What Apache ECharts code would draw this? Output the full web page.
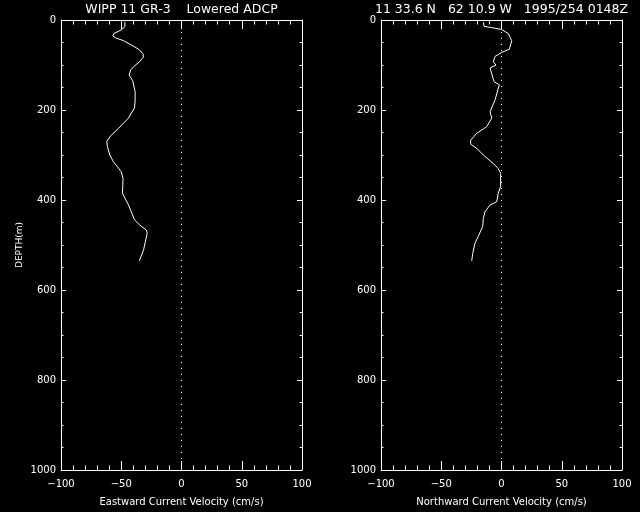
<!DOCTYPE html>
<html>
<head>
<meta charset="utf-8">
<script src="https://cdn.jsdelivr.net/npm/echarts@6/dist/echarts.min.js"></script>
<style>
html,body{margin:0;padding:0;background:#000;}
#chart{width:640px;height:512px;}
</style>
</head>
<body>
<div id="chart"></div>
<script>
// ---- data ----
var leftTitle = 'WIPP 11 GR-3    Lowered ADCP';
var rightTitle = '11 33.6 N   62 10.9 W   1995/254 0148Z';
var depthLabel = 'DEPTH(m)';
var eastLabel = 'Eastward Current Velocity (cm/s)';
var northLabel = 'Northward Current Velocity (cm/s)';

var eastDepth = [4, 15, 22, 30, 35, 40, 46, 55, 66, 75, 82, 92, 102, 110, 122, 135, 159, 180, 195, 218, 240, 258, 270, 281, 300, 315, 337, 352, 385, 411, 444, 456, 467, 474, 511, 535];
var eastVel   = [-47, -47, -50, -56, -57, -54.5, -48, -42, -35, -32, -31.5, -34.5, -39, -42, -43.5, -40.5, -38.5, -38.5, -39, -44, -52, -59, -62, -61.5, -59.5, -56.5, -50, -48.5, -49, -44, -39, -34.5, -29, -28.5, -31.5, -35];

var northDepth = [5, 14, 21, 30, 46, 65, 72, 81, 93, 100, 107, 137, 144, 178, 204, 218, 237, 252, 267, 276, 285, 300, 319, 330, 341, 370, 385, 404, 411, 426, 441, 459, 481, 496, 519, 535];
var northVel   = [-15, -14.5, 0, 5.6, 8.5, 6.5, 0.2, -5.4, -6.8, -4.6, -9.5, -6.2, -1.8, -5.4, -9.5, -8.1, -12.3, -20.6, -25.6, -25.6, -20.6, -15.1, -6.8, -2.7, -0.7, -0.7, -2.7, -4, -9.5, -13.7, -15.1, -15.6, -19.3, -22, -23.9, -24.7];

var velMin = -100, velMax = 100, velStep = 50;
var depthMin = 0, depthMax = 1000, depthStep = 200;

function pairs(v, d) { var out = []; for (var i = 0; i < v.length; i++) out.push([v[i], d[i]]); return out; }

var FONT = 'DejaVu Sans';
var WHITE = '#ffffff';

function xAx(gridIndex, bottom, name) {
  return {
    type: 'value', gridIndex: gridIndex, position: bottom ? 'bottom' : 'top',
    min: velMin, max: velMax, interval: velStep,
    axisLine: { show: true, onZero: false, lineStyle: { color: WHITE, width: 1 } },
    axisTick: { show: true, inside: true, length: 9, lineStyle: { color: WHITE, width: 1 } },
    minorTick: { show: true, splitNumber: 5, length: 4.5, lineStyle: { color: WHITE, width: 1 } },
    splitLine: { show: false },
    axisLabel: { show: bottom, color: WHITE, fontFamily: FONT, fontSize: 10, margin: 9,
      formatter: function (v) { return v < 0 ? '\u2212' + Math.abs(v) : String(v); } },
    name: bottom ? name : '', nameLocation: 'middle', nameGap: 27,
    nameTextStyle: { color: WHITE, fontFamily: FONT, fontSize: 10 }
  };
}
function yAx(gridIndex, left, name) {
  return {
    type: 'value', gridIndex: gridIndex, position: left ? 'left' : 'right', inverse: true,
    min: depthMin, max: depthMax, interval: depthStep,
    axisLine: { show: true, onZero: false, lineStyle: { color: WHITE, width: 1 } },
    axisTick: { show: true, inside: true, length: 5, lineStyle: { color: WHITE, width: 1 } },
    minorTick: { show: true, splitNumber: 4, length: 2.5, lineStyle: { color: WHITE, width: 1 } },
    splitLine: { show: false },
    axisLabel: { show: left, color: WHITE, fontFamily: FONT, fontSize: 10, margin: 5,
      formatter: function (v) { return String(v); } },
    name: (left && name) ? name : '', nameLocation: 'middle', nameGap: 37,
    nameTextStyle: { color: WHITE, fontFamily: FONT, fontSize: 9 }
  };
}
function curve(xi, yi, data) {
  return { type: 'line', xAxisIndex: xi, yAxisIndex: yi, data: data, showSymbol: false, symbol: 'none',
    lineStyle: { color: WHITE, width: 1 }, silent: true, animation: false };
}
function zeroLine(xi, yi) {
  return { type: 'line', xAxisIndex: xi, yAxisIndex: yi, data: [[0, depthMin], [0, depthMax]], showSymbol: false, symbol: 'none',
    lineStyle: { color: WHITE, width: 1, type: [1, 5] }, silent: true, animation: false };
}

var chart = echarts.init(document.getElementById('chart'), null, { renderer: 'canvas' });
chart.setOption({
  backgroundColor: '#000000',
  animation: false,
  grid: [
    { left: 61, top: 20, width: 241, height: 450 },
    { left: 381, top: 20, width: 241, height: 450 }
  ],
  xAxis: [xAx(0, true, eastLabel), xAx(0, false), xAx(1, true, northLabel), xAx(1, false)],
  yAxis: [yAx(0, true, depthLabel), yAx(0, false), yAx(1, true), yAx(1, false)],
  series: [
    zeroLine(0, 0), curve(0, 0, pairs(eastVel, eastDepth)),
    zeroLine(2, 2), curve(2, 2, pairs(northVel, northDepth))
  ],
  graphic: [
    { type: 'text', x: 181.5, y: 10, style: { text: leftTitle, fill: WHITE, font: '12.5px "DejaVu Sans"', align: 'center', verticalAlign: 'middle', textAlign: 'center', textVerticalAlign: 'middle' } },
    { type: 'text', x: 501.5, y: 10, style: { text: rightTitle, fill: WHITE, font: '12.5px "DejaVu Sans"', align: 'center', verticalAlign: 'middle', textAlign: 'center', textVerticalAlign: 'middle' } }
  ]
});
</script>
</body>
</html>
